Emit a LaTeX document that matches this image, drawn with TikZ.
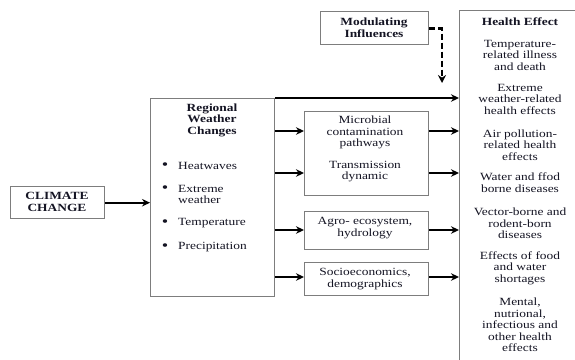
\documentclass[tikz,border=0pt]{standalone}
\usepackage{fontspec}
\setmainfont{Liberation Serif}[FakeStretch=1.22]
\usetikzlibrary{arrows.meta}
\definecolor{boxgray}{RGB}{125,125,125}
\definecolor{txt}{RGB}{20,20,35}
\begin{document}
\begin{tikzpicture}[x=1pt,y=-1pt,
 box/.style={draw=boxgray,line width=1.4pt,rectangle,inner sep=0pt,anchor=north west},
 lbl/.style={align=center,inner sep=0pt,font=\fontsize{11}{11.5}\selectfont,text=txt},
 ttl/.style={lbl,font=\fontsize{11}{11.5}\selectfont\bfseries},
 bul/.style={inner sep=0pt,font=\fontsize{15}{15}\selectfont,text=txt},
 arr/.style={line width=2.1pt,-{Stealth[length=8pt,width=7.5pt]}},
 dasharr/.style={line width=2.8pt,dash pattern=on 6pt off 3pt,-{Stealth[length=8pt,width=8pt]}}]
\useasboundingbox (0,0) rectangle (575,359);
% boxes
\node[box,minimum width=94pt,minimum height=32pt] (cc) at (10,186) {};
\node[box,minimum width=124pt,minimum height=198pt] (reg) at (150,98) {};
\node[box,minimum width=108pt,minimum height=33pt] (mod) at (320,11) {};
\node[box,minimum width=124pt,minimum height=84pt] (mic) at (304,111) {};
\node[box,minimum width=124pt,minimum height=38pt] (agro) at (304,211) {};
\node[box,minimum width=124pt,minimum height=33pt] (soc) at (304,262) {};
\node[box,minimum width=140pt,minimum height=370pt] (hea) at (459,10) {};
% texts
\node[ttl] (cct) at (57,202) {CLIMATE\\CHANGE};
\node[ttl] (regt) at (212,120) {Regional\\Weather\\Changes};
\node[bul] (b1) at (165,166) {\textbullet};
\node[lbl,anchor=west] (r1) at (178,166) {Heatwaves};
\node[bul] (b2) at (165,189) {\textbullet};
\node[lbl,anchor=west,align=left] (r2) at (178,194.5) {Extreme\\weather};
\node[bul] (b3) at (165,223) {\textbullet};
\node[lbl,anchor=west] (r3) at (178,223) {Temperature};
\node[bul] (b4) at (165,247) {\textbullet};
\node[lbl,anchor=west] (r4) at (178,247) {Precipitation};
\node[ttl] (modt) at (374,27.5) {Modulating\\Influences};
\node[lbl] (mic1) at (365,132.5) {Microbial\\contamination\\pathways};
\node[lbl] (mic2) at (365,171.5) {Transmission\\dynamic};
\node[lbl] (agrot) at (365,228) {Agro- ecosystem,\\hydrology};
\node[lbl] (soct) at (365,279) {Socioeconomics,\\demographics};
\node[ttl] (h0) at (520,22) {Health Effect};
\node[lbl] (h1) at (520,55) {Temperature-\\related illness\\and death};
\node[lbl] (h2) at (520,99) {Extreme\\weather-related\\health effects};
\node[lbl] (h3) at (520,145) {Air pollution-\\related health\\effects};
\node[lbl] (h4) at (520,182.5) {Water and ffod\\borne diseases};
\node[lbl] (h5) at (520,223.5) {Vector-borne and\\rodent-born\\diseases};
\node[lbl] (h6) at (520,268) {Effects of food\\and water\\shortages};
\node[lbl] (h7) at (520,325) {Mental,\\nutrional,\\infectious and\\other health\\effects};
% connectors
\coordinate (y1) at (0,131);
\coordinate (y2) at (0,173);
\coordinate (y3) at (0,230);
\coordinate (y4) at (0,277);
\coordinate (dashend) at (442,83);
\draw[arr] (cc.east) -- (cc.east -| reg.west);
\draw[arr] (reg.north east) -- (reg.north east -| hea.west);
\draw[arr] (reg.east |- y1) -- (mic.west |- y1);
\draw[arr] (reg.east |- y2) -- (mic.west |- y2);
\draw[arr] (reg.east |- y3) -- (agro.west |- y3);
\draw[arr] (reg.east |- y4) -- (soc.west |- y4);
\draw[arr] (mic.east |- y1) -- (hea.west |- y1);
\draw[arr] (mic.east |- y2) -- (hea.west |- y2);
\draw[arr] (agro.east |- y3) -- (hea.west |- y3);
\draw[arr] (soc.east |- y4) -- (hea.west |- y4);
\draw[dasharr] (mod.east) -| (dashend);
\end{tikzpicture}
\end{document}
